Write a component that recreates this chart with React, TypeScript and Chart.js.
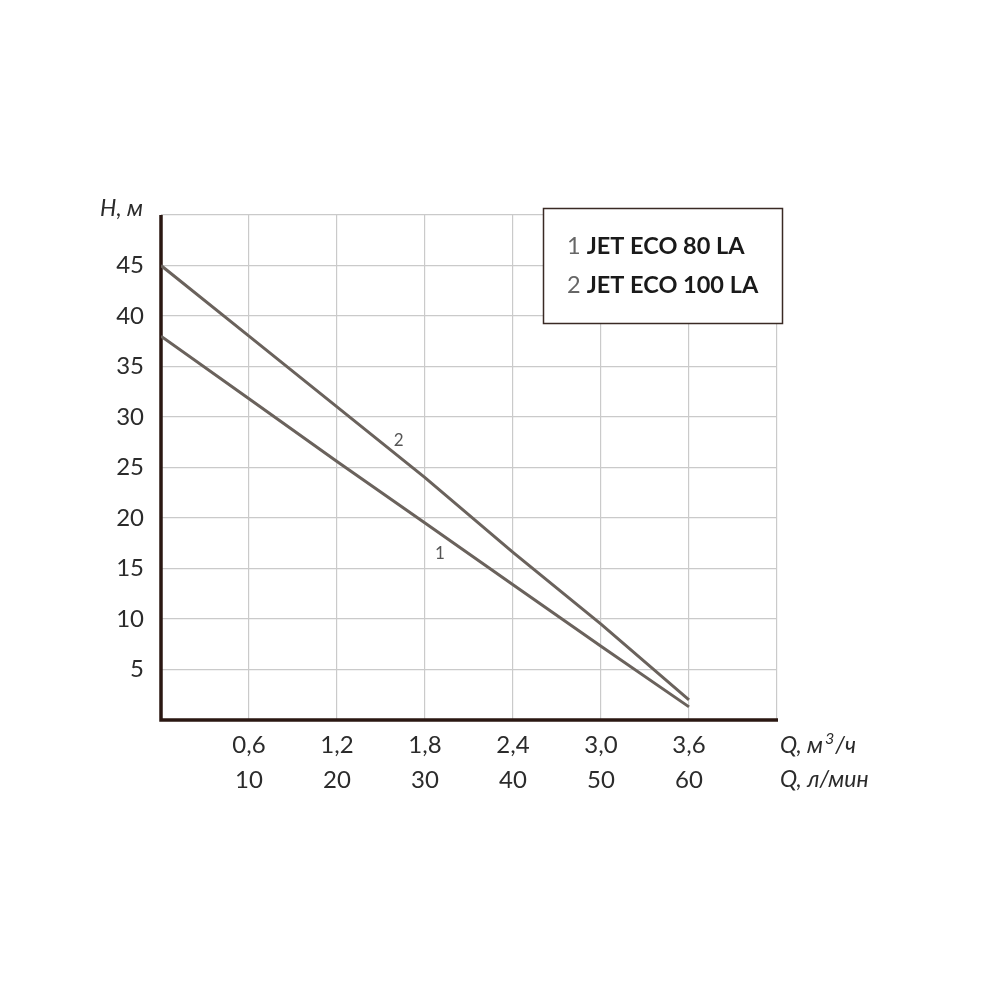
import React, { useEffect, useRef } from "react";
import { Chart, registerables } from "chart.js";

Chart.register(...registerables);

const flowLmin = [0, 10, 20, 30, 40, 50, 60];
const head1 = [38, 31.8, 25.6, 19.5, 13.4, 7.3, 1.3];
const head2 = [45, 38, 31, 24, 16.6, 9.5, 2.0];
const tickLmin = [10, 20, 30, 40, 50, 60];
const tickM3h = ["0,6", "1,2", "1,8", "2,4", "3,0", "3,6"];
const legendNums = ["1", "2"];
const legendNames = ["JET ECO 80 LA", "JET ECO 100 LA"];
const curveLabels = [
  { text: "1", x: 31.7, y: 16.5 },
  { text: "2", x: 27.0, y: 27.7 },
];

const FONT = "Lato, 'Open Sans', sans-serif";
const LINE = "#6a625c";
const AXIS = "#2a1712";
const GRID = "#cacaca";
const TEXT = "#2b2b2b";

export default function App() {
  const ref = useRef<HTMLCanvasElement | null>(null);
  useEffect(() => {
    if (!ref.current) return;
    const background = {
      id: "bg",
      beforeDraw(chart: any) {
        const ctx = chart.ctx;
        ctx.save();
        ctx.fillStyle = "#ffffff";
        ctx.fillRect(0, 0, chart.width, chart.height);
        ctx.restore();
      },
    };
    const axesPlugin = {
      id: "axesLines",
      beforeDatasetsDraw(chart: any) {
        const ctx = chart.ctx;
        const { left, right, top, bottom } = chart.chartArea;
        ctx.save();
        ctx.strokeStyle = AXIS;
        ctx.lineWidth = 3.5;
        ctx.lineCap = "butt";
        ctx.beginPath();
        ctx.moveTo(left, top);
        ctx.lineTo(left, bottom + 1.75);
        ctx.moveTo(left - 1.75, bottom);
        ctx.lineTo(right + 1, bottom);
        ctx.stroke();
        ctx.restore();
      },
    };
    const overlay = {
      id: "overlay",
      afterDraw(chart: any) {
        const ctx = chart.ctx;
        const xs = chart.scales.x;
        const ys = chart.scales.y;
        ctx.save();
        // axis titles
        ctx.fillStyle = TEXT;
        ctx.font = `italic 23px ${FONT}`;
        ctx.textBaseline = "middle";
        ctx.textAlign = "right";
        ctx.fillText("H, м", 143, 209);
        ctx.textAlign = "left";
        const tx = xs.right + 3;
        ctx.fillText("Q, м", tx, 746);
        const w = ctx.measureText("Q, м").width;
        ctx.font = `italic 16px ${FONT}`;
        ctx.fillText("3", tx + w + 2, 739);
        const w3 = ctx.measureText("3").width;
        ctx.font = `italic 23px ${FONT}`;
        ctx.fillText("/ч", tx + w + 3 + w3, 746);
        ctx.fillText("Q, л/мин", tx, 780);
        // curve labels
        ctx.font = `17px ${FONT}`;
        ctx.fillStyle = "#555";
        ctx.textAlign = "center";
        curveLabels.forEach((l) => {
          ctx.fillText(l.text, xs.getPixelForValue(l.x), ys.getPixelForValue(l.y));
        });
        // legend box
        ctx.fillStyle = "#fff";
        ctx.fillRect(543, 208, 240, 116);
        ctx.strokeStyle = "#3a2a24";
        ctx.lineWidth = 1.5;
        ctx.strokeRect(543.5, 208.5, 239, 115);
        ctx.textAlign = "left";
        legendNums.forEach((n, i) => {
          const y = 246 + i * 39;
          ctx.font = `23.5px ${FONT}`;
          ctx.fillStyle = "#666";
          ctx.fillText(n, 567, y);
          const wn = ctx.measureText(n + " ").width;
          ctx.font = `bold 23.5px ${FONT}`;
          ctx.fillStyle = "#1a1a1a";
          ctx.fillText(legendNames[i], 567 + wn, y);
        });
        ctx.restore();
      },
    };
    const chart = new Chart(ref.current, {
      type: "line",
      data: {
        datasets: [
          {
            label: "1",
            data: flowLmin.map((x, i) => ({ x, y: head1[i] })),
            borderColor: LINE,
            borderWidth: 3,
            pointRadius: 0,
            tension: 0,
          },
          {
            label: "2",
            data: flowLmin.map((x, i) => ({ x, y: head2[i] })),
            borderColor: LINE,
            borderWidth: 3,
            pointRadius: 0,
            tension: 0,
          },
        ],
      },
      options: {
        responsive: false,
        animation: false,
        layout: { padding: { left: 0, top: 215, right: 223, bottom: 0 } },
        plugins: { legend: { display: false }, tooltip: { enabled: false } },
        scales: {
          x: {
            type: "linear",
            min: 0,
            max: 70,
            afterFit: (s: any) => {
              s.height = 110;
            },
            grid: { color: GRID, lineWidth: 1.2, drawTicks: false },
            border: { display: false },
            ticks: {
              stepSize: 10,
              padding: 8,
              color: TEXT,
              font: { family: FONT, size: 24, lineHeight: 1.46 },
              maxRotation: 0,
              autoSkip: false,
              callback: (v: any) => {
                const i = tickLmin.indexOf(Number(v));
                return i >= 0 ? [tickM3h[i], String(tickLmin[i])] : "";
              },
            },
          },
          y: {
            min: 0,
            max: 50,
            afterFit: (s: any) => {
              s.width = 161;
            },
            grid: { color: GRID, lineWidth: 1.2, drawTicks: false },
            border: { display: false },
            ticks: {
              stepSize: 5,
              padding: 17,
              color: TEXT,
              font: { family: FONT, size: 24 },
              callback: (v: any) => (v === 0 || v === 50 ? "" : String(v)),
            },
          },
        },
      },
      plugins: [background, axesPlugin, overlay],
    });
    return () => chart.destroy();
  }, []);
  return (
    <div style={{ position: "absolute", left: 0, top: 0, width: 1000, height: 1000, background: "#fff" }}>
      <canvas ref={ref} width={1000} height={830} style={{ width: 1000, height: 830, display: "block" }} />
    </div>
  );
}
